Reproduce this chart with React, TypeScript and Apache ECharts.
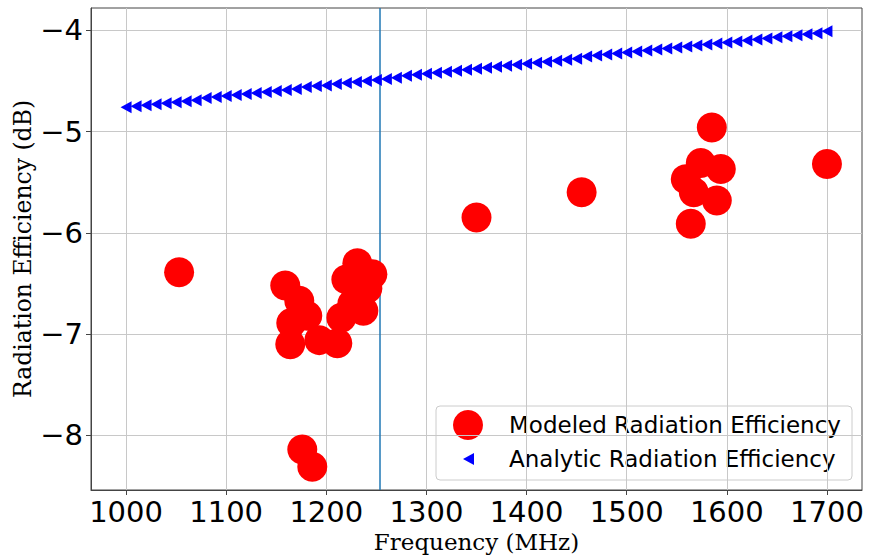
import React, { useEffect, useRef } from "react";
import * as echarts from "echarts";

const xTicks = [1000, 1100, 1200, 1300, 1400, 1500, 1600, 1700];
const yTicks = [-8, -7, -6, -5, -4];

const modeledFreq = [
  1053, 1159, 1173, 1181, 1165, 1164, 1193, 1211, 1215, 1226, 1237, 1220, 1231, 1246, 1241,
  1176, 1186, 1350, 1455, 1585, 1574, 1594, 1559, 1567, 1590, 1564, 1700,
];
const modeledEff = [
  -6.39, -6.52, -6.67, -6.82, -6.89, -7.1, -7.06, -7.09, -6.84, -6.7, -6.77, -6.46, -6.3, -6.41, -6.55,
  -8.14, -8.31, -5.85, -5.6, -4.96, -5.31, -5.37, -5.47, -5.6, -5.68, -5.91, -5.32,
];

const analyticFreq = [
  1000, 1010, 1020, 1030, 1040, 1050, 1060, 1070, 1080, 1090,
  1100, 1110, 1120, 1130, 1140, 1150, 1160, 1170, 1180, 1190,
  1200, 1210, 1220, 1230, 1240, 1250, 1260, 1270, 1280, 1290,
  1300, 1310, 1320, 1330, 1340, 1350, 1360, 1370, 1380, 1390,
  1400, 1410, 1420, 1430, 1440, 1450, 1460, 1470, 1480, 1490,
  1500, 1510, 1520, 1530, 1540, 1550, 1560, 1570, 1580, 1590,
  1600, 1610, 1620, 1630, 1640, 1650, 1660, 1670, 1680, 1690, 1700,
];
const analyticEff = [
  -4.76, -4.75, -4.74, -4.73, -4.72, -4.71, -4.7, -4.69, -4.67, -4.66,
  -4.65, -4.64, -4.63, -4.62, -4.61, -4.6, -4.59, -4.58, -4.56, -4.55,
  -4.545, -4.53, -4.52, -4.51, -4.5, -4.49, -4.48, -4.47, -4.45, -4.44,
  -4.43, -4.42, -4.41, -4.4, -4.39, -4.38, -4.37, -4.36, -4.35, -4.34,
  -4.33, -4.32, -4.31, -4.3, -4.29, -4.28, -4.26, -4.25, -4.24, -4.23,
  -4.22, -4.21, -4.2, -4.19, -4.18, -4.17, -4.16, -4.15, -4.14, -4.13,
  -4.12, -4.11, -4.1, -4.09, -4.08, -4.07, -4.06, -4.05, -4.04, -4.03, -4.01,
];

const markerFreq = 1253;

const legendLabels = ["Modeled Radiation Efficiency", "Analytic Radiation Efficiency"];

export default function App() {
  const ref = useRef<HTMLDivElement>(null);
  useEffect(() => {
    if (!ref.current) return;
    const chart = echarts.init(ref.current, undefined, { renderer: "svg" });
    const sans = "DejaVu Sans";
    const serif = "DejaVu Serif";
    const fmt = (v: number) => String(v).replace("-", "\u2212");
    chart.setOption({
      animation: false,
      backgroundColor: "#fff",
      grid: {
        left: 91,
        top: 8,
        right: 10,
        bottom: 67,
        show: true,
        borderColor: "#444",
        borderWidth: 1,
        backgroundColor: "transparent",
        containLabel: false,
        outerBoundsMode: "none",
      },
      xAxis: {
        type: "value",
        min: 965,
        max: 1735,
        name: "Frequency (MHz)",
        nameLocation: "middle",
        nameGap: 40,
        nameMoveOverlap: false,
        nameTextStyle: { fontFamily: serif, fontSize: 23, color: "#000" },
        axisLine: { show: true, onZero: false, lineStyle: { color: "#444", width: 1 } },
        axisTick: { show: true, inside: false, length: 5, customValues: xTicks, lineStyle: { color: "#444" } },
        axisLabel: {
          customValues: xTicks,
          fontFamily: sans,
          fontSize: 29,
          color: "#000",
          margin: 7,
          formatter: fmt,
        },
        splitLine: { show: true, lineStyle: { color: "#c8c8c8", width: 1 } },
      },
      yAxis: {
        type: "value",
        min: -8.54,
        max: -3.78,
        name: "Radiation Efficiency (dB)",
        nameLocation: "middle",
        nameGap: 56,
        nameRotate: 90,
        nameMoveOverlap: false,
        nameTextStyle: { fontFamily: serif, fontSize: 23.5, color: "#000" },
        axisLine: { show: true, onZero: false, lineStyle: { color: "#444", width: 1 } },
        axisTick: { show: true, inside: false, length: 5, customValues: yTicks, lineStyle: { color: "#444" } },
        axisLabel: {
          customValues: yTicks,
          fontFamily: sans,
          fontSize: 29,
          color: "#000",
          margin: 8,
          formatter: fmt,
        },
        splitLine: { show: true, lineStyle: { color: "#c8c8c8", width: 1 } },
      },
      series: [
        {
          name: legendLabels[1],
          type: "scatter",
          z: 2,
          symbol: "path://M0,5 L10,0 L10,10 Z",
          symbolSize: [11, 12],
          itemStyle: { color: "#0000ff", opacity: 1 },
          data: analyticFreq.map((f, i) => [f, analyticEff[i]]),
          markLine: {
            silent: true,
            symbol: "none",
            label: { show: false },
            lineStyle: { color: "#1f77b4", width: 1.5, type: "solid" },
            data: [{ xAxis: markerFreq }],
            z: 1,
          },
        },
        {
          name: legendLabels[0],
          type: "scatter",
          z: 3,
          symbol: "circle",
          symbolSize: 30,
          itemStyle: { color: "#ff0000", opacity: 1 },
          data: modeledFreq.map((f, i) => [f, modeledEff[i]]),
        },
      ],
      graphic: [
        {
          type: "group",
          z: 100,
          children: [
            {
              type: "rect",
              shape: { x: 436, y: 406, width: 416, height: 74, r: 4 },
              style: { fill: "rgba(255,255,255,0.8)", stroke: "#cccccc", lineWidth: 1 },
            },
            { type: "circle", shape: { cx: 468, cy: 425, r: 15 }, style: { fill: "#ff0000" } },
            {
              type: "polygon",
              shape: { points: [[463, 459], [474, 453], [474, 465]] },
              style: { fill: "#0000ff" },
            },
            {
              type: "text",
              x: 509,
              y: 425,
              style: {
                text: legendLabels[0],
                fontFamily: sans,
                fontSize: 23,
                fill: "#000",
                verticalAlign: "middle",
              },
            },
            {
              type: "text",
              x: 509,
              y: 459,
              style: {
                text: legendLabels[1],
                fontFamily: sans,
                fontSize: 23,
                fill: "#000",
                verticalAlign: "middle",
              },
            },
          ],
        },
      ],
    });
    return () => chart.dispose();
  }, []);
  return (
    <div
      ref={ref}
      style={{ position: "fixed", left: 0, top: 0, width: 872, height: 557 }}
    />
  );
}
